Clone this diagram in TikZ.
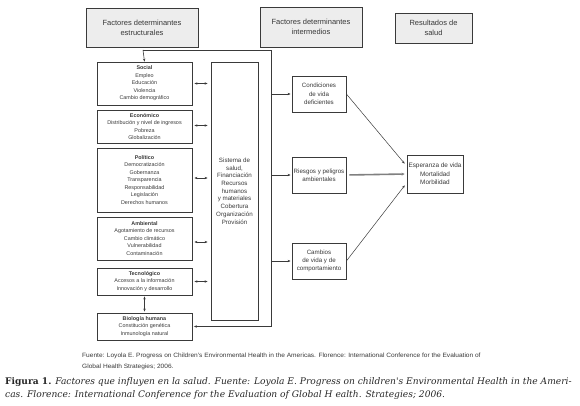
\documentclass[tikz,border=0pt]{standalone}
\usepackage{fontspec}
\setmainfont{Liberation Sans}
\newfontfamily\capfont{DejaVu Serif}
\usetikzlibrary{arrows.meta}
\definecolor{txt}{HTML}{383838}
\definecolor{ln}{HTML}{3A3A3A}
\definecolor{hdrfill}{HTML}{EDEDED}
\begin{document}
\begin{tikzpicture}[x=1pt,y=-1pt,
  hdr/.style={draw=ln, fill=hdrfill, line width=0.9pt, text=txt, align=center, inner sep=0pt,
    font=\fontsize{7.5}{10}\selectfont},
  lbox/.style={draw=ln, line width=0.8pt, text=txt, align=center, inner sep=0pt,
    minimum width=95pt, font=\fontsize{5.4}{7.5}\selectfont},
  mbox/.style={draw=ln, line width=0.8pt, text=txt, align=center, inner sep=0pt,
    minimum width=54pt, minimum height=36pt, font=\fontsize{6.2}{8.3}\selectfont},
  conn/.style={draw=ln, line width=0.6pt},
  tip/.style={-{Stealth[length=3pt,width=2.4pt]}},
  dtip/.style={{Stealth[length=3pt,width=2.4pt]}-{Stealth[length=3pt,width=2.4pt]}}
]
\useasboundingbox (0,0) rectangle (580,406);
% headers
\node[hdr, minimum width=112pt, minimum height=39pt] (h1) at (142,27.5) {Factores determinantes\\estructurales};
\node[hdr, minimum width=102pt, minimum height=40pt] (h2) at (311,27) {Factores determinantes\\intermedios};
\node[hdr, minimum width=77pt, minimum height=30pt] (h3) at (433.5,28) {Resultados de\\salud};
% left boxes
\node[lbox, minimum height=43pt] (soc) at (144.5,83.5) {\textbf{Social}\\Empleo\\Educación\\Violencia\\Cambio demográfico};
\node[lbox, minimum height=33pt] (eco) at (144.5,126.5) {\textbf{Económico}\\Distribución y nivel de ingresos\\Pobreza\\Globalización};
\node[lbox, minimum height=64pt] (pol) at (144.5,180) {\textbf{Político}\\Democratización\\Gobernanza\\Transparencia\\Responsabilidad\\Legislación\\Derechos humanos};
\node[lbox, minimum height=43pt] (amb) at (144.5,238.5) {\textbf{Ambiental}\\Agotamiento de recursos\\Cambio climático\\Vulnerabilidad\\Contaminación};
\node[lbox, minimum height=27pt] (tec) at (144.5,281.5) {\textbf{Tecnológico}\\Accesos a la información\\Innovación y desarrollo};
\node[lbox, minimum height=27pt] (bio) at (144.5,326.5) {\textbf{Biología humana}\\Constitución genética\\Inmunología natural};
% health system
\node[draw=ln, line width=0.8pt, text=txt, align=center, inner sep=0pt, minimum width=47pt, minimum height=258pt,
  font=\fontsize{6.2}{7.7}\selectfont] (sis) at (234.5,191) {Sistema de\\salud,\\Financiación\\Recursos\\humanos\\y materiales\\Cobertura\\Organización\\Provisión};
% middle boxes
\node[mbox] (cond) at (319,94) {Condiciones\\de vida\\deficientes};
\node[mbox] (ries) at (319,175) {Riesgos y peligros\\ambientales};
\node[mbox] (camb) at (319,261) {Cambios\\de vida y de\\comportamiento};
% outcome
\node[draw=ln, line width=0.8pt, text=txt, align=center, inner sep=0pt, minimum width=56pt, minimum height=38pt,
  font=\fontsize{6.4}{8.3}\selectfont] (esp) at (435,174) {Esperanza de vida\\Mortalidad\\Morbilidad};
% frame line
\coordinate (c1) at (143,50);
\coordinate (c2) at (271,50);
\coordinate (c3) at (271,326.5);
\draw[conn, tip] (c1) -- (soc.north);
\draw[conn] (c1) -- (c2) -- (c3);
\draw[conn, tip, shorten >=1.5pt] (c3) -- (bio.east);
\draw[conn, tip, shorten >=1pt] (c2 |- cond.west) -- (cond.west);
\draw[conn, tip, shorten >=1pt] (c2 |- ries.west) -- (ries.west);
\draw[conn, tip, shorten >=1pt] (c2 |- camb.west) -- (camb.west);
% double arrows
\foreach \n/\dy in {soc/0, eco/-1, pol/-2, amb/3.5, tec/0}{
  \coordinate (da) at ([yshift=-\dy pt]\n.east);
  \draw[conn, dtip, shorten <=2pt, shorten >=3pt] (da) -- (sis.west |- da);
}
\draw[conn, dtip, shorten <=1pt, shorten >=1pt] (tec.south) -- (bio.north);
% to outcome
\coordinate (e1) at ([yshift=8pt]esp.west);
\coordinate (e3) at ([yshift=-9pt]esp.west);
\draw[draw=ln, line width=0.5pt, tip, shorten >=3pt] (cond.east) -- (e1);
\draw[draw=gray, line width=1.6pt, -{Stealth[length=3pt,width=3pt]}, shorten <=3pt, shorten >=2pt] (ries.east) -- (esp.west);
\draw[draw=ln, line width=0.5pt, tip, shorten >=3pt] (camb.east) -- (e3);
% source
\node[anchor=north west, align=left, text=txt, inner sep=0pt, font=\fontsize{6.2}{11}\selectfont] (src) at (82,352.5)
  {\scalebox{1.06}[1]{Fuente: Loyola E. Progress on Children's Environmental Health in the Americas. Florence: International Conference for the Evaluation of}\\\scalebox{1.06}[1]{Global Health Strategies; 2006.}};
% caption
\node[anchor=north west, align=left, text=black!85, inner sep=0pt, font=\capfont\fontsize{9.1}{12.5}\selectfont] (cap) at (5,377.5)
  {\textbf{Figura 1.} \textit{Factores que influyen en la salud. Fuente: Loyola E. Progress on children's Environmental Health in the Ameri-}\\\textit{cas. Florence: International Conference for the Evaluation of Global H ealth. Strategies; 2006.}};
\end{tikzpicture}
\end{document}
